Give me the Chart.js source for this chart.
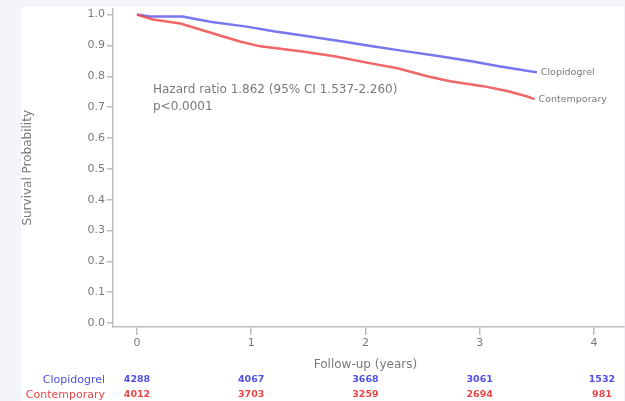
<!DOCTYPE html>
<html>
<head>
<meta charset="utf-8">
<script src="https://cdn.jsdelivr.net/npm/chart.js@4"></script>
<style>
  html, body { margin: 0; padding: 0; background: #f3f5fa; }
  #c { display: block; }
</style>
</head>
<body>
<canvas id="c" width="625" height="401"></canvas>
<script>
// ---- data ----
const seriesNames = ["Clopidogrel", "Contemporary"];
const clopidogrelTime = [0, 0.11, 0.40, 0.64, 0.96, 1.21, 1.51, 1.80, 2.06, 2.30, 2.65, 2.94, 3.18, 3.44, 3.50];
const clopidogrelSurv = [1.0, 0.994, 0.994, 0.977, 0.961, 0.945, 0.929, 0.913, 0.897, 0.884, 0.865, 0.848, 0.832, 0.816, 0.813];
const contemporaryTime = [0, 0.14, 0.38, 0.61, 0.90, 1.08, 1.43, 1.73, 2.00, 2.28, 2.54, 2.74, 3.03, 3.24, 3.41, 3.48];
const contemporarySurv = [1.0, 0.984, 0.971, 0.945, 0.913, 0.897, 0.881, 0.865, 0.845, 0.826, 0.800, 0.784, 0.768, 0.752, 0.735, 0.726];
const xTicks = [0, 1, 2, 3, 4];
const yTicks = [0, 0.1, 0.2, 0.3, 0.4, 0.5, 0.6, 0.7, 0.8, 0.9, 1.0];
const riskClopidogrel = [4288, 4067, 3668, 3061, 1532];
const riskContemporary = [4012, 3703, 3259, 2694, 981];
const hrLines = ["Hazard ratio 1.862 (95% CI 1.537-2.260)", "p<0.0001"];
const hrAnchor = [0.14, 0.755];
const xTitle = "Follow-up (years)";
const yTitle = "Survival Probability";

// ---- styles ----
const BLUE = "rgba(95,95,238,0.85)";
const RED = "rgba(238,75,75,0.85)";
const BLUE_TXT = "#5050e8";
const RED_TXT = "#e84848";
const AXIS = "#bdbdbd";
const TXT = "#7a7a7a";
const FONT = "DejaVu Sans";

const toPts = (t, s) => t.map((v, i) => ({ x: v, y: s[i] }));

const bgPlugin = {
  id: "bg",
  beforeDraw(chart) {
    const ctx = chart.ctx;
    ctx.save();
    ctx.fillStyle = "#f3f5fa";
    ctx.fillRect(0, 0, chart.width, chart.height);
    ctx.fillStyle = "#ffffff";
    ctx.fillRect(21, 7, chart.width - 22, chart.height - 7);
    ctx.restore();
  }
};

const annPlugin = {
  id: "ann",
  afterDraw(chart) {
    const ctx = chart.ctx;
    const xs = chart.scales.x, ys = chart.scales.y;
    ctx.save();
    // hazard ratio text
    ctx.font = "12px '" + FONT + "'";
    ctx.fillStyle = TXT;
    ctx.textAlign = "left";
    ctx.textBaseline = "middle";
    const hx = xs.getPixelForValue(hrAnchor[0]);
    const hy = ys.getPixelForValue(hrAnchor[1]);
    hrLines.forEach((l, i) => ctx.fillText(l, hx, hy + i * 17));

    // end-of-curve labels
    ctx.font = "9.5px '" + FONT + "'";
    const ends = [
      [clopidogrelTime, clopidogrelSurv, seriesNames[0]],
      [contemporaryTime, contemporarySurv, seriesNames[1]]
    ];
    ends.forEach(([t, s, name]) => {
      const px = xs.getPixelForValue(t[t.length - 1]) + 4;
      const py = ys.getPixelForValue(s[s.length - 1]);
      ctx.fillStyle = TXT;
      ctx.fillText(name, px, py);
    });

    // x axis title
    ctx.font = "12px '" + FONT + "'";
    ctx.fillStyle = TXT;
    ctx.textAlign = "center";
    const mid = (xs.getPixelForValue(xTicks[0]) + xs.getPixelForValue(xTicks[xTicks.length - 1])) / 2;
    ctx.fillText(xTitle, mid, xs.bottom - 36);

    // number at risk
    const rowY = [xs.bottom - 21, xs.bottom - 6];
    ctx.font = "11px '" + FONT + "'";
    ctx.textAlign = "right";
    ctx.fillStyle = BLUE_TXT;
    ctx.fillText(seriesNames[0], ys.right - 8, rowY[0]);
    ctx.fillStyle = RED_TXT;
    ctx.fillText(seriesNames[1], ys.right - 8, rowY[1]);
    ctx.font = "bold 9.5px '" + FONT + "'";
    ctx.textAlign = "center";
    xTicks.forEach((t, i) => {
      let px = xs.getPixelForValue(t);
      if (i === xTicks.length - 1) px += 8;
      ctx.fillStyle = BLUE_TXT;
      ctx.fillText(String(riskClopidogrel[i]), px, rowY[0]);
      ctx.fillStyle = RED_TXT;
      ctx.fillText(String(riskContemporary[i]), px, rowY[1]);
    });
    ctx.restore();
  }
};

new Chart(document.getElementById("c"), {
  type: "line",
  data: {
    datasets: [
      {
        label: seriesNames[1],
        data: toPts(contemporaryTime, contemporarySurv),
        borderColor: RED,
        borderWidth: 2.5,
        pointRadius: 0,
        tension: 0,
        fill: false
      },
      {
        label: seriesNames[0],
        data: toPts(clopidogrelTime, clopidogrelSurv),
        borderColor: BLUE,
        borderWidth: 2.5,
        pointRadius: 0,
        tension: 0,
        fill: false
      }
    ]
  },
  options: {
    responsive: false,
    animation: false,
    devicePixelRatio: 1,
    layout: { padding: { left: 21, top: 7, right: 1, bottom: 0 } },
    plugins: { legend: { display: false }, tooltip: { enabled: false } },
    scales: {
      x: {
        type: "linear",
        min: -0.21,
        max: 4.263,
        afterBuildTicks: s => { s.ticks = xTicks.map(v => ({ value: v })); },
        afterFit: s => { s.height = 74; },
        grid: { drawOnChartArea: false, color: AXIS, tickLength: 8, lineWidth: 1.5 },
        border: { display: true, color: AXIS, width: 1.5 },
        ticks: { color: TXT, font: { family: FONT, size: 11 }, padding: 2, maxRotation: 0, autoSkip: false,
                 callback: v => String(v) },
        title: { display: false }
      },
      y: {
        type: "linear",
        min: -0.0129,
        max: 1.0194,
        afterBuildTicks: s => { s.ticks = yTicks.map(v => ({ value: v })); },
        afterFit: s => { s.width = 92; },
        grid: { drawOnChartArea: false, color: AXIS, tickLength: 6, lineWidth: 1.5 },
        border: { display: true, color: AXIS, width: 1.5 },
        ticks: { color: TXT, font: { family: FONT, size: 11 }, padding: 2, autoSkip: false,
                 callback: v => Number(v).toFixed(1) },
        title: { display: true, text: yTitle, color: TXT, font: { family: FONT, size: 12 }, padding: 0 }
      }
    }
  },
  plugins: [bgPlugin, annPlugin]
});
</script>
</body>
</html>
